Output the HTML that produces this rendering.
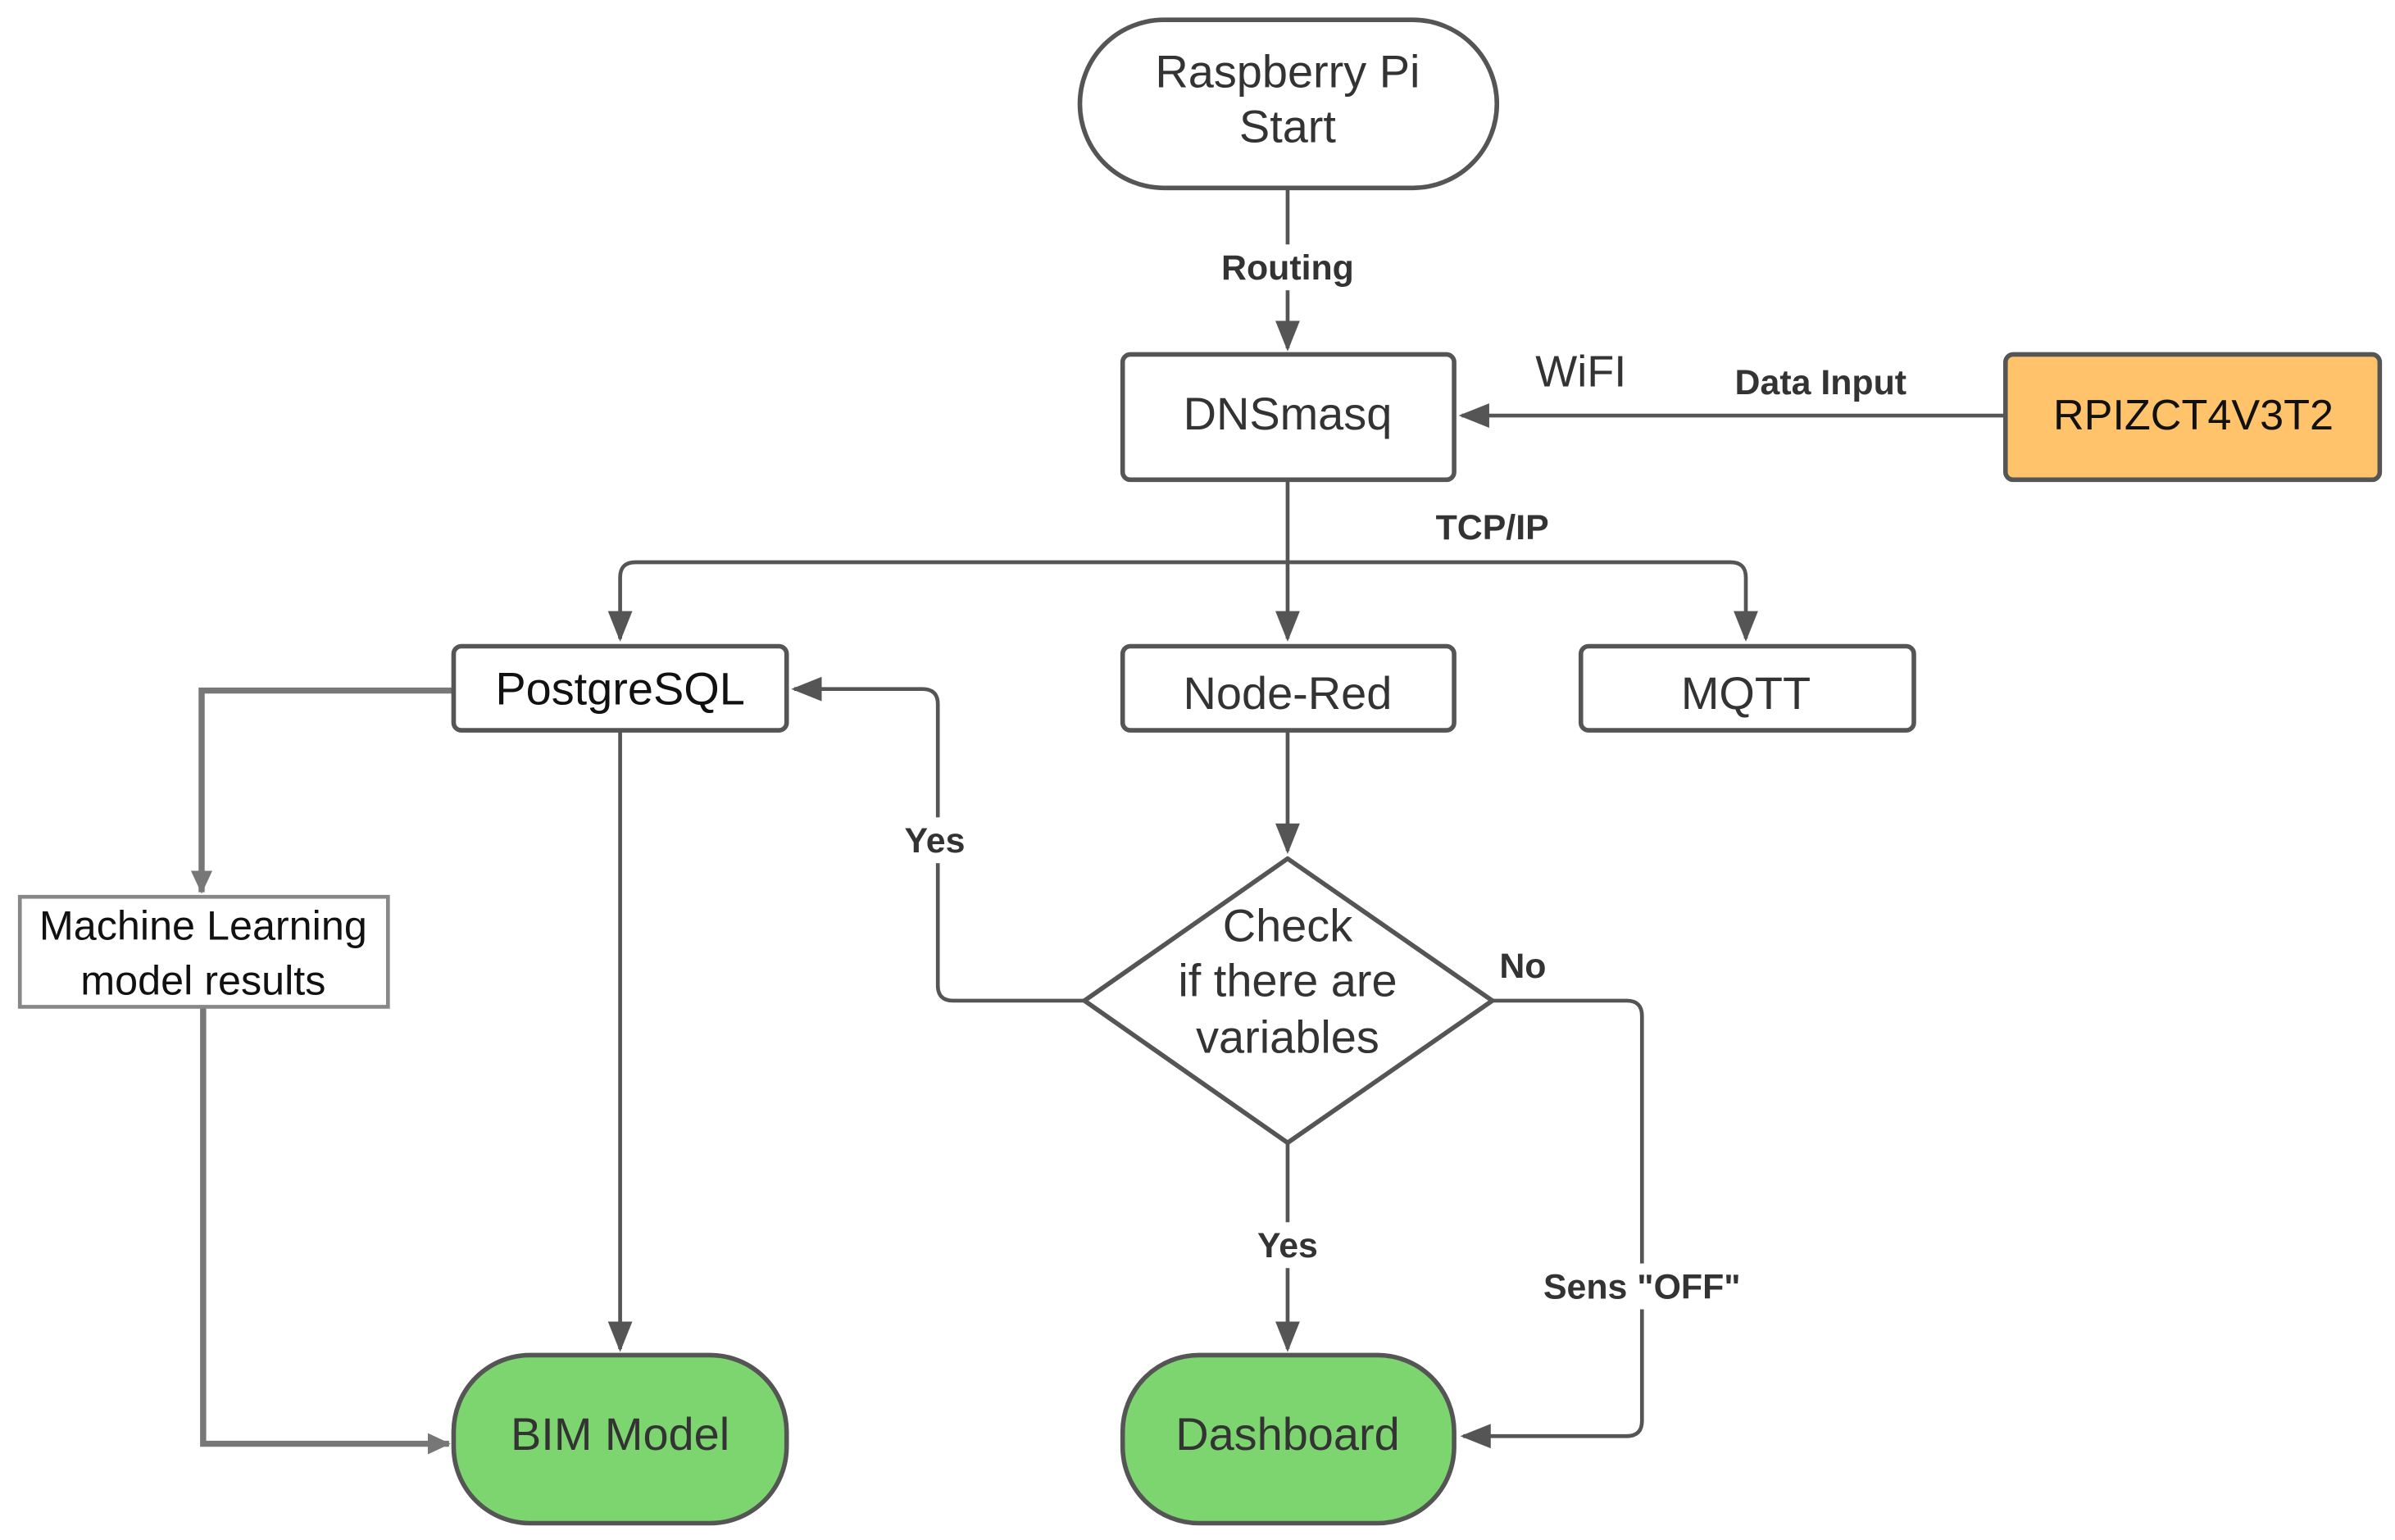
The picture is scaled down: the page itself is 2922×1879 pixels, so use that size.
<!DOCTYPE html>
<html><head><meta charset="utf-8"><style>html,body{margin:0;padding:0;background:#fff}svg{display:block}</style></head>
<body>
<svg width="2922" height="1879" viewBox="0 0 1568 1008" preserveAspectRatio="none" xmlns="http://www.w3.org/2000/svg" font-family="Liberation Sans, sans-serif">
<defs>
<marker id="b" markerWidth="16" markerHeight="16" refX="14" refY="8" orient="auto" markerUnits="userSpaceOnUse" viewBox="0 0 16 16"><path d="M0,1 L15,8 L0,15 z" fill="#777"/></marker>
<marker id="c" markerWidth="20" markerHeight="16" refX="18" refY="8" orient="auto" markerUnits="userSpaceOnUse" viewBox="0 0 20 16"><path d="M0,0 L20,8 L0,16 z" fill="#555"/></marker>
</defs>
<g fill="none" stroke="#555" stroke-width="2.5">
<line x1="843" y1="123" x2="843" y2="228" marker-end="url(#c)"/>
<line x1="1313" y1="272" x2="957" y2="272" marker-end="url(#c)"/>
<path d="M843,314 V368"/>
<path d="M406,418 V378 Q406,368 416,368 H1133 Q1143,368 1143,378 V418" marker-end="url(#c)"/>
<path d="M406,400 V418" marker-end="url(#c)"/>
<line x1="843" y1="368" x2="843" y2="418" marker-end="url(#c)"/>
<line x1="406" y1="478" x2="406" y2="883" marker-end="url(#c)"/>
<line x1="843" y1="478" x2="843" y2="557" marker-end="url(#c)"/>
<path d="M710,655 H624 Q614,655 614,645 V461 Q614,451 604,451 H520" marker-end="url(#c)"/>
<path d="M977,655 H1065 Q1075,655 1075,665 V930 Q1075,940 1065,940 H958" marker-end="url(#c)"/>
<line x1="843" y1="748" x2="843" y2="883" marker-end="url(#c)"/>
</g>
<g fill="none" stroke="#777" stroke-width="4">
<path d="M297,452 H132 V584" marker-end="url(#b)"/>
<path d="M133,659 V945 H294" marker-end="url(#b)"/>
</g>
<g stroke="#555" stroke-width="3">
<rect x="707" y="13" width="273" height="110" rx="55" fill="#fff"/>
<rect x="735" y="232" width="217" height="82" rx="5" fill="#fff"/>
<rect x="1313" y="232" width="245" height="82" rx="5" fill="#FFC36B"/>
<rect x="297" y="423" width="218" height="55" rx="5" fill="#fff"/>
<rect x="735" y="423" width="217" height="55" rx="5" fill="#fff"/>
<rect x="1035" y="423" width="218" height="55" rx="5" fill="#fff"/>
<polygon points="843,562 977,655 843,748 710,655" fill="#fff" stroke-linejoin="round"/>
<rect x="297" y="887" width="218" height="110" rx="50" fill="#7DD56F"/>
<rect x="735" y="887" width="217" height="110" rx="50" fill="#7DD56F"/>
</g>
<rect x="13" y="587" width="241" height="72" fill="#fff" stroke="#888" stroke-width="2.5"/>
<g fill="#fff">
<rect x="795" y="160" width="96" height="30"/>
<rect x="820" y="800" width="46" height="30"/>
<rect x="1005" y="827" width="142" height="30"/>
<rect x="590" y="535" width="46" height="30"/>
</g>
<g fill="#333" font-size="30" text-anchor="middle">
<text x="843" y="57">Raspberry Pi</text>
<text x="843" y="93">Start</text>
<text x="843" y="281">DNSmasq</text>
<text x="1035" y="253" font-size="29">WiFI</text>
<text x="1436" y="281" fill="#111" font-size="28">RPIZCT4V3T2</text>
<text x="406" y="461" fill="#111">PostgreSQL</text>
<text x="843" y="464">Node-Red</text>
<text x="1143" y="464">MQTT</text>
<text x="843" y="616">Check</text>
<text x="843" y="652">if there are</text>
<text x="843" y="689">variables</text>
<text x="406" y="949">BIM Model</text>
<text x="843" y="949">Dashboard</text>
<text x="133" y="615" font-size="27" fill="#111">Machine Learning</text>
<text x="133" y="651" font-size="27" fill="#111">model results</text>
</g>
<g fill="#333" font-size="23" font-weight="bold" text-anchor="middle">
<text x="843" y="183">Routing</text>
<text x="1192" y="258">Data Input</text>
<text x="977" y="353">TCP/IP</text>
<text x="612" y="558">Yes</text>
<text x="997" y="640">No</text>
<text x="843" y="823">Yes</text>
<text x="1075" y="850">Sens "OFF"</text>
</g>
</svg>
</body></html>
